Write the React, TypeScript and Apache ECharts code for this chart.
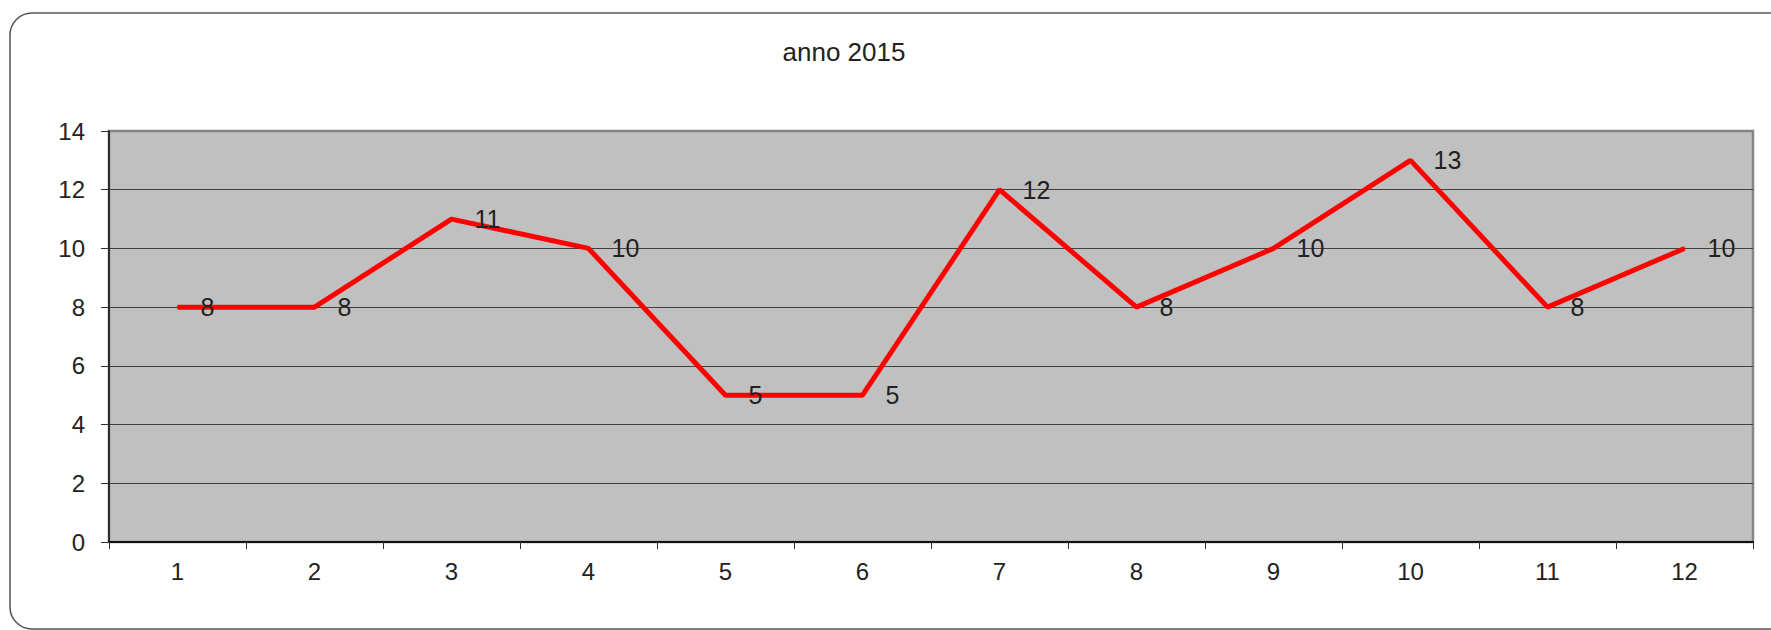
import React, { useEffect, useRef } from "react";
import * as echarts from "echarts";

const titleText = "anno 2015";
const categories = ["1", "2", "3", "4", "5", "6", "7", "8", "9", "10", "11", "12"];
const values = [8, 8, 11, 10, 5, 5, 12, 8, 10, 13, 8, 10];
const yMin = 0;
const yMax = 14;
const yInterval = 2;

export default function App() {
  const ref = useRef<HTMLDivElement>(null);
  useEffect(() => {
    if (!ref.current) return;
    const chart = echarts.init(ref.current, undefined, { renderer: "svg" });
    const font = "'Liberation Sans', Arial, sans-serif";
    chart.setOption({
      animation: false,
      backgroundColor: "#ffffff",
      title: {
        text: titleText,
        left: 839,
        top: 34,
        textAlign: "center",
        textStyle: {
          fontFamily: font,
          fontSize: 26,
          fontWeight: "normal",
          color: "#222222",
          lineHeight: 26,
        },
      },
      graphic: [
        {
          type: "rect",
          shape: { x: 10, y: 13, width: 1800, height: 616, r: 22 },
          style: { fill: "none", stroke: "#555555", lineWidth: 1.5 },
          silent: true,
          z: -10,
        },
      ],
      grid: {
        left: 109,
        right: 18,
        top: 131,
        bottom: 88,
        show: true,
        backgroundColor: "#c0c0c0",
        borderColor: "#858585",
        borderWidth: 2.5,
      },
      xAxis: {
        type: "category",
        data: categories,
        boundaryGap: true,
        axisLine: { show: true, lineStyle: { color: "#111111", width: 2 } },
        axisTick: { show: true, length: 7, lineStyle: { color: "#333333", width: 1 } },
        axisLabel: { fontFamily: font, fontSize: 24, color: "#222222", margin: 17 },
        splitLine: { show: false },
      },
      yAxis: {
        type: "value",
        min: yMin,
        max: yMax,
        interval: yInterval,
        axisLine: { show: true, lineStyle: { color: "#111111", width: 1.5 } },
        axisTick: { show: true, length: 8, lineStyle: { color: "#333333", width: 1 } },
        axisLabel: { fontFamily: font, fontSize: 24, color: "#222222", margin: 24 },
        splitLine: {
          show: true,
          lineStyle: {
            color: ["#404040", "#404040", "#404040", "#404040", "#404040", "#404040", "#404040", "#858585"],
            width: 1,
          },
        },
      },
      series: [
        {
          type: "line",
          data: values,
          showSymbol: true,
          symbol: "circle",
          symbolSize: 2,
          lineStyle: { color: "#ff0000", width: 5 },
          itemStyle: { color: "#ff0000" },
          label: {
            show: true,
            position: "right",
            distance: 22,
            fontFamily: font,
            fontSize: 25,
            color: "#222222",
          },
        },
      ],
    });
    return () => chart.dispose();
  }, []);
  return (
    <div
      ref={ref}
      style={{ position: "absolute", left: 0, top: 0, width: 1771, height: 630 }}
    />
  );
}
